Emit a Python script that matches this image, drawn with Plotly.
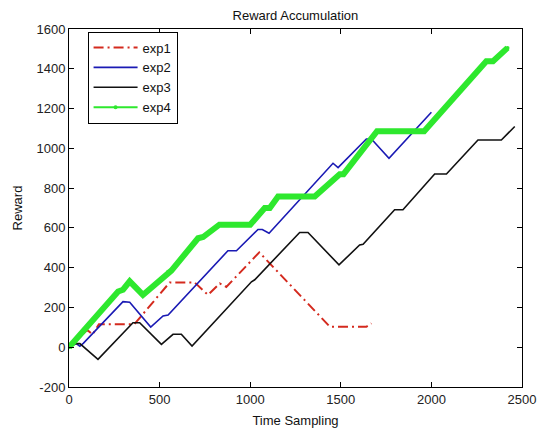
import plotly.graph_objects as go

# ---- data ----
exp1_x = [0, 100, 130, 165, 360, 556, 693, 767, 832, 868, 1050, 1440, 1641, 1669]
exp1_y = [0, 87, 64, 115, 115, 326, 326, 263, 321, 303, 477, 103, 103, 120]

exp2_x = [0, 40, 60, 80, 298, 335, 451, 519, 547, 877, 924, 1043, 1067, 1104, 1457, 1485, 1641, 1669, 1766, 2000]
exp2_y = [0, 18, 5, 21, 229, 226, 101, 157, 162, 485, 485, 592, 592, 573, 925, 903, 1047, 1047, 950, 1181]

exp3_x = [0, 30, 60, 160, 353, 390, 510, 574, 620, 679, 1007, 1025, 1273, 1319, 1490, 1604, 1623, 1797, 1843, 2018, 2083, 2257, 2386, 2460]
exp3_y = [0, 18, 18, -61, 123, 123, 14, 65, 65, 6, 329, 339, 577, 577, 414, 514, 518, 691, 691, 871, 871, 1042, 1042, 1110]

exp4_x = [0, 271, 298, 335, 408, 547, 565, 712, 740, 830, 1000, 1080, 1108, 1154, 1356, 1494, 1515, 1700, 1960, 2303, 2340, 2420]
exp4_y = [0, 280, 289, 331, 263, 380, 385, 548, 554, 616, 616, 700, 700, 758, 758, 870, 870, 1086, 1086, 1438, 1438, 1505]

x_ticks = [0, 500, 1000, 1500, 2000, 2500]
y_ticks = [-200, 0, 200, 400, 600, 800, 1000, 1200, 1400, 1600]

FONT = "Liberation Sans, Arial, sans-serif"
RED, BLUE, BLACK, GREEN = "#d42a1e", "#1a1ab4", "#111111", "#2ee82e"

fig = go.Figure()
fig.add_trace(go.Scatter(x=exp1_x, y=exp1_y, mode="lines", name="exp1",
                         line=dict(color=RED, width=2, dash="10px,4px,2px,4px")))
fig.add_trace(go.Scatter(x=exp2_x, y=exp2_y, mode="lines", name="exp2",
                         line=dict(color=BLUE, width=1.6)))
fig.add_trace(go.Scatter(x=exp3_x, y=exp3_y, mode="lines", name="exp3",
                         line=dict(color=BLACK, width=1.6)))
# thick band (dense markers in original)
fig.add_trace(go.Scatter(x=exp4_x, y=exp4_y, mode="lines", name="exp4", showlegend=False,
                         legendgroup="exp4", line=dict(color=GREEN, width=6)))
fig.add_trace(go.Scatter(x=exp4_x, y=exp4_y, mode="lines+markers", name="exp4",
                         legendgroup="exp4", line=dict(color=GREEN, width=2),
                         marker=dict(color=GREEN, size=4, symbol="circle")))

axis_common = dict(
    showgrid=False, zeroline=False, showline=True, linecolor="black", linewidth=1,
    mirror="ticks", ticks="inside", ticklen=5, tickcolor="black", tickwidth=1,
    tickfont=dict(family=FONT, size=13, color="#222"), automargin=False,
)

fig.update_layout(
    width=546, height=428,
    margin=dict(l=69, r=24, t=29, b=41),
    paper_bgcolor="white", plot_bgcolor="white",
    title=dict(text="Reward Accumulation", x=0.541, xanchor="center",
               y=1 - 15 / 428, yanchor="middle", yref="container",
               font=dict(family=FONT, size=13, color="#111")),
    xaxis=dict(range=[0, 2500], tickvals=x_ticks, ticktext=[str(v) for v in x_ticks],
               title=dict(text="Time Sampling", standoff=13,
                          font=dict(family=FONT, size=13, color="#111")),
               **axis_common),
    yaxis=dict(range=[-200, 1600], tickvals=y_ticks, ticktext=[str(v) for v in y_ticks],
               title=dict(text="Reward", standoff=10,
                          font=dict(family=FONT, size=13, color="#111")),
               **axis_common),
    legend=dict(x=0.041, y=0.993, xanchor="left", yanchor="top",
                bgcolor="white", bordercolor="black", borderwidth=1,
                font=dict(family=FONT, size=13, color="#111"),
                tracegroupgap=0, itemwidth=44),
    showlegend=True,
)

fig.write_html("out.html")
